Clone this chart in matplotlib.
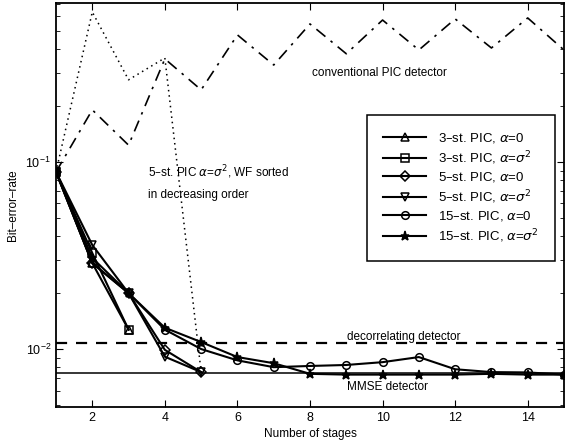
import matplotlib
matplotlib.use("Agg")
import matplotlib.pyplot as plt
import numpy as np

plt.rcParams['font.family'] = ['Liberation Sans', 'DejaVu Sans']
plt.rcParams['mathtext.fontset'] = 'dejavusans'

# number of stages
stages = np.arange(1, 16)

# conventional PIC detector (dash-dot)
conv_pic = [0.0885, 0.190, 0.123, 0.356, 0.243, 0.478, 0.330, 0.547,
            0.379, 0.574, 0.397, 0.582, 0.407, 0.589, 0.397]

# 5-stage PIC, alpha=sigma^2, WF sorted in decreasing order (dotted)
sorted_5st = [0.0885, 0.634, 0.275, 0.360, 0.00753]

pic3_a0 = [0.0885, 0.0288, 0.0127]
pic3_s2 = [0.0885, 0.0326, 0.0127]
pic5_a0 = [0.0885, 0.0288, 0.0199, 0.0099, 0.00753]
pic5_s2 = [0.0885, 0.0360, 0.0199, 0.0091, 0.00753]
pic15_a0 = [0.0885, 0.0288, 0.0199, 0.0127, 0.0100, 0.0087, 0.0080, 0.00812,
            0.00822, 0.00851, 0.00906, 0.0078, 0.00753, 0.0075, 0.0073]
pic15_s2 = [0.0885, 0.0307, 0.0199, 0.0130, 0.0109, 0.00906, 0.0084, 0.00737,
            0.0073, 0.0073, 0.0073, 0.0073, 0.00737, 0.0073, 0.0073]

decorr_ber = 0.0108
mmse_ber = 0.00742

fig = plt.figure(figsize=(5.65, 4.44), dpi=100)
ax = fig.add_axes([56 / 565, 1 - 407 / 444, 508 / 565, 404 / 444])

# reference lines
ax.axhline(decorr_ber, color='black', lw=1.6, ls=(0, (5, 4)))
ax.axhline(mmse_ber, color='black', lw=1.1)
ax.plot(stages, conv_pic, color='black', lw=1.2, ls=(0, (7, 4, 1.5, 4)))
ax.plot(stages[:5], sorted_5st, color='black', lw=1.1, ls=(0, (1, 2.5)))

# PIC curves
kw = dict(color='black', lw=1.5, ms=5.5, mfc='none', mew=1.1)
ax.plot(stages[:3], pic3_a0, marker='^', label=r'3–st. PIC, $\alpha$=0', **kw)
ax.plot(stages[:3], pic3_s2, marker='s', label=r'3–st. PIC, $\alpha$=$\sigma^2$', **kw)
ax.plot(stages[:5], pic5_a0, marker='D', label=r'5–st. PIC, $\alpha$=0', **dict(kw, ms=5))
ax.plot(stages[:5], pic5_s2, marker='v', label=r'5–st. PIC, $\alpha$=$\sigma^2$', **kw)
ax.plot(stages, pic15_a0, marker='o', label=r'15–st. PIC, $\alpha$=0', **kw)
ax.plot(stages, pic15_s2, marker='*', label=r'15–st. PIC, $\alpha$=$\sigma^2$',
        **dict(kw, mfc='black', ms=6.5))

ax.set_yscale('log')
ax.set_xlim(1, 15)
ax.set_ylim(0.0049, 0.708)
ax.set_xticks([2, 4, 6, 8, 10, 12, 14])
ax.tick_params(which='both', direction='in', top=True, right=True, labelsize=9)
ax.tick_params(which='major', length=5)
ax.tick_params(which='minor', length=3)
for s in ax.spines.values():
    s.set_linewidth(1.3)

ax.set_xlabel('Number of stages', fontsize=8.5, labelpad=3)
ax.set_ylabel('Bit–error–rate', fontsize=8.5, labelpad=5)


def px(x, y):
    # figure pixel -> figure fraction
    return x / 565, 1 - y / 444


# annotations
fig.text(*px(312, 73), 'conventional PIC detector', fontsize=8.5, va='center')
fig.text(*px(148, 172), r'5–st. PIC $\alpha$=$\sigma^2$, WF sorted', fontsize=8.5, va='center')
fig.text(*px(148, 195), 'in decreasing order', fontsize=8.5, va='center')
fig.text(*px(347, 337), 'decorrelating detector', fontsize=8.5, va='center')
fig.text(*px(347, 387), 'MMSE detector', fontsize=8.5, va='center')

leg = ax.legend(loc='upper right', bbox_to_anchor=(0.982, 0.723), fontsize=9.5,
                fancybox=False, edgecolor='black', framealpha=1, handlelength=3.2,
                labelspacing=0.28, handletextpad=0.9, borderpad=1.25, borderaxespad=0)
leg.get_frame().set_linewidth(1.1)

fig.savefig('out.png', dpi=100)
